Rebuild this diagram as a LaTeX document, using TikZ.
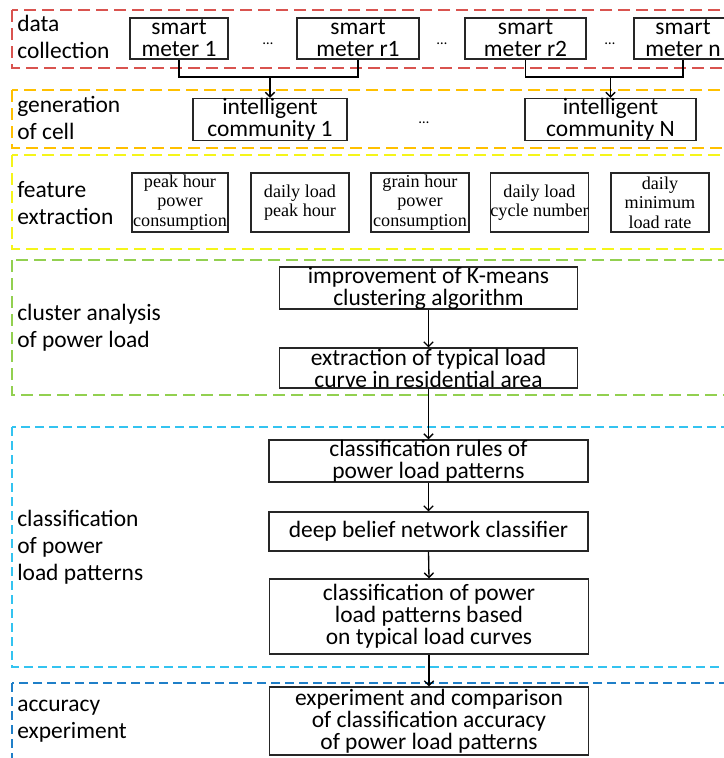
\documentclass[tikz,border=0pt]{standalone}
\usepackage{fontspec}
\setmainfont{Carlito}
\newfontfamily\tmsfont{Liberation Serif}
\usetikzlibrary{arrows.meta}
\definecolor{cred}{HTML}{D9534F}
\definecolor{cgold}{HTML}{FFC000}
\definecolor{cyel}{HTML}{F5F51A}
\definecolor{cgreen}{HTML}{92D050}
\definecolor{clblue}{HTML}{33C3F0}
\definecolor{cdblue}{HTML}{1F7FC8}
\begin{document}
\begin{tikzpicture}[x=0.75pt,y=-0.75pt,
  sec/.style={line width=1.1pt, dash pattern=on 9pt off 4.5pt},
  secb/.style={line width=1.1pt, dash pattern=on 6.5pt off 4pt},
  box/.style={draw=black!85, line width=0.9pt, align=center, inner sep=0pt,
    font=\fontsize{17.6}{16.5}\selectfont},
  fbox/.style={draw=black!85, line width=0.9pt, align=center, inner sep=0pt,
    font=\tmsfont\fontsize{13.6}{14.6}\selectfont},
  bw/.style={minimum width=#1*0.75pt},
  bh/.style={minimum height=#1*0.75pt},
  lab/.style={anchor=west, align=left, inner sep=0pt,
    font=\fontsize{17.6}{20.25}\selectfont},
  dots/.style={inner sep=0pt, font=\fontsize{11}{11}\selectfont},
  conn/.style={line width=1pt, draw=black},
  arr/.style={conn, -{Straight Barb[length=3.5pt,width=7pt]}}]
\useasboundingbox (0,0) rectangle (724,758);
\fill[white] (0,0) rectangle (724,758);
\clip (0,0) rectangle (724,758);

% sections
\draw[sec, cred]   (12,10)  rectangle (740,68);
\draw[sec, cgold]  (12,90)  rectangle (740,148);
\draw[sec, cyel]   (12,155) rectangle (740,249);
\draw[sec, cgreen] (12,260) rectangle (740,395);
\draw[secb, clblue] (12,427) rectangle (740,667);
\draw[secb, cdblue] (12,683) rectangle (740,775);

% labels
\node[lab] (l1) at (17,37)  {data\\collection};
\node[lab] (l2) at (17,118) {generation\\of cell};
\node[lab] (l3) at (17,203) {feature\\extraction};
\node[lab] (l4) at (17,328) {cluster analysis\\of power load};
\node[lab] (l5) at (17,547) {classification\\of power\\load patterns};
\node[lab] (l6) at (17,721) {accuracy\\experiment};

% smart meters
\node[box,bw=98,bh=41]  (m1) at (179,38.5)   {smart\\meter 1};
\node[box,bw=122,bh=41] (mr1) at (358,38.5)  {smart\\meter r1};
\node[box,bw=121,bh=41] (mr2) at (525.5,38.5) {smart\\meter r2};
\node[box,bw=98,bh=41]  (mn) at (683,38.5)   {smart\\meter n};
\node[dots] (d1) at (268,44) {…};
\node[dots] (d2) at (442,44) {…};
\node[dots] (d3) at (610,44) {…};

% communities
\node[box,bw=154,bh=41] (c1) at (270,119.5)   {intelligent\\community 1};
\node[box,bw=171,bh=41] (cN) at (610.5,119.5) {intelligent\\community N};
\node[dots] (d4) at (424,123) {…};

\coordinate (j1) at (270,77);
\coordinate (j2) at (610.5,77);
\draw[conn] (m1.south) |- (j1) -| (mr1.south);
\draw[arr] (j1) -- (c1.north);
\draw[conn] (mr2.south) |- (j2) -| (mn.south);
\draw[arr] (j2) -- (cN.north);

% features
\node[fbox,bw=96,bh=59] (f1) at (180,202.5)   {peak hour\\power\\consumption};
\node[fbox,bw=98,bh=59] (f2) at (300,202.5)   {daily load\\peak hour};
\node[fbox,bw=98,bh=59] (f3) at (420,202.5)   {grain hour\\power\\consumption};
\node[fbox,bw=97,bh=59] (f4) at (539.5,202.5) {daily load\\cycle number};
\node[fbox,bw=98,bh=59] (f5) at (660,202.5)   {daily\\minimum\\load rate};

% cluster analysis
\node[box,bw=298,bh=40] (k1) at (428.5,288) {improvement of K-means\\clustering algorithm};
\node[box,bw=298,bh=40] (k2) at (428.5,368) {extraction of typical load\\curve in residential area};

% classification
\node[box,bw=319,bh=40] (p1) at (428.5,461)   {classification rules of\\power load patterns};
\node[box,bw=319,bh=39] (p2) at (428.5,531.5) {deep belief network classifier};
\node[box,bw=319,bh=75] (p3) at (429,616.5)   {classification of power\\load patterns based\\on typical load curves};

% accuracy
\node[box,bw=319,bh=68] (a1) at (429,721) {experiment and comparison\\of classification accuracy\\of power load patterns};

\draw[arr] (k1.south) -- (k2.north);
\draw[arr] (k2.south) -- (p1.north);
\draw[arr] (p1.south) -- (p2.north);
\draw[arr] (p2.south) -- (p3.north);
\draw[arr] (p3.south) -- (a1.north);
\end{tikzpicture}
\end{document}
